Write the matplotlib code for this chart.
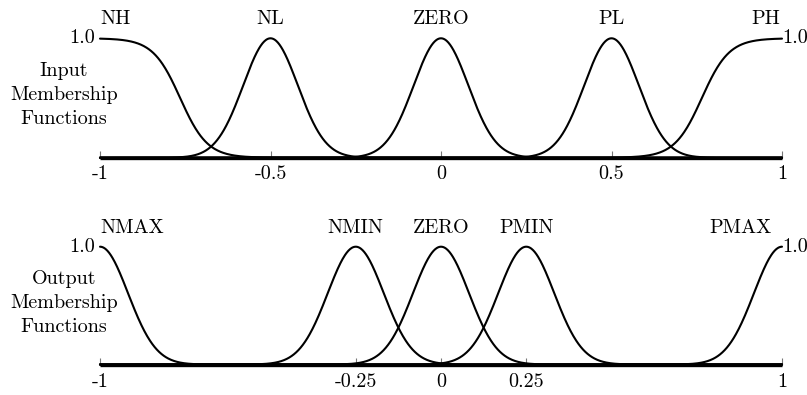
import numpy as np
import matplotlib
matplotlib.use("Agg")
import matplotlib.pyplot as plt

plt.rcParams['font.family'] = ['cmr10', 'DejaVu Serif']
plt.rcParams['axes.formatter.use_mathtext'] = True

# ---- data ----
input_names = ["NH", "NL", "ZERO", "PL", "PH"]
input_shapes = ["zsig", "gauss", "gauss", "gauss", "ssig"]
input_centers = [-0.765, -0.5, 0.0, 0.5, 0.765]
input_spreads = [0.04, 0.08, 0.08, 0.08, 0.04]
input_ticks = [-1, -0.5, 0, 0.5, 1]
input_ticklabels = ["-1", "-0.5", "0", "0.5", "1"]

output_names = ["NMAX", "NMIN", "ZERO", "PMIN", "PMAX"]
output_shapes = ["gauss", "gauss", "gauss", "gauss", "gauss"]
output_centers = [-1.0, -0.25, 0.0, 0.25, 1.0]
output_spreads = [0.082, 0.082, 0.082, 0.082, 0.082]
output_ticks = [-1, -0.25, 0, 0.25, 1]
output_ticklabels = ["-1", "-0.25", "0", "0.25", "1"]


def membership(x, shape, c, s):
    if shape == "gauss":
        return np.exp(-(x - c) ** 2 / (2 * s ** 2))
    if shape == "zsig":
        return 1.0 / (1.0 + np.exp((x - c) / s))
    return 1.0 / (1.0 + np.exp(-(x - c) / s))


W, H = 807, 395
fig = plt.figure(figsize=(W / 100, H / 100), dpi=100)

x = np.linspace(-1, 1, 1201)
FS = 14.5


def panel(rect, names, shapes, centers, spreads, ticks, ticklabels, side_text,
          side_y, pad):
    ax = fig.add_axes(rect)
    ax.set_xlim(-1, 1)
    ax.set_ylim(0, 1)
    for n, sh, c, s in zip(names, shapes, centers, spreads):
        ax.plot(x, membership(x, sh, c, s), color='black', lw=1.5,
                clip_on=False, solid_capstyle='round')
    for side in ['top', 'left', 'right']:
        ax.spines[side].set_visible(False)
    ax.spines['bottom'].set_linewidth(2.4)
    ax.spines['bottom'].set_capstyle('butt')
    ax.set_yticks([])
    ax.set_xticks(ticks)
    ax.set_xticklabels(ticklabels, fontsize=FS)
    ax.tick_params(axis='x', direction='in', length=5, width=0.8,
                   color='#777777', pad=pad)
    # curve labels
    for i, (n, c) in enumerate(zip(names, centers)):
        if i == 0:
            ax.text(-1, 1.16, n, ha='left', va='center', fontsize=FS)
        elif i == len(names) - 1:
            ax.text(0.995 if n == "PH" else 0.97, 1.16, n, ha='right',
                    va='center', fontsize=FS)
        else:
            ax.text(c, 1.16, n, ha='center', va='center', fontsize=FS)
    ax.text(-1.015, 1.0, "1.0", ha='right', va='center', fontsize=FS)
    ax.text(1.002, 1.0, "1.0", ha='left', va='center', fontsize=FS)
    fig.text(64 / W, side_y, side_text, ha='center', va='center',
             fontsize=FS, linespacing=1.4, multialignment='center')
    return ax


left = 100 / W
width = (782 - 100) / W
top_base = 1 - 157.7 / H
top_h = (157.7 - 38.3) / H
bot_base = 1 - 364.5 / H
bot_h = (364.5 - 246.7) / H

panel([left, top_base, width, top_h], input_names, input_shapes, input_centers,
      input_spreads, input_ticks, input_ticklabels,
      "Input\nMembership\nFunctions", 1 - 95 / H, 5)
panel([left, bot_base, width, bot_h], output_names, output_shapes, output_centers,
      output_spreads, output_ticks, output_ticklabels,
      "Output\nMembership\nFunctions", 1 - 303 / H, 6.5)

fig.savefig("out.png", dpi=100)
